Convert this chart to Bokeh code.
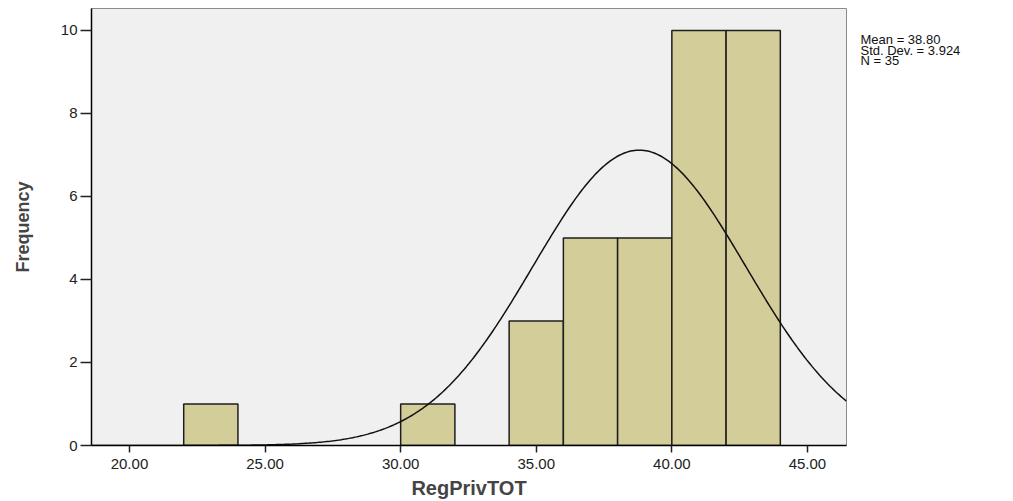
import numpy as np
from bokeh.plotting import figure
from bokeh.layouts import row
from bokeh.models import Range1d, FixedTicker, CustomJSTickFormatter
from bokeh.core.properties import value
from bokeh.embed import file_html
from bokeh.resources import INLINE

# Data
bin_left = [22, 30, 34, 36, 38, 40, 42]
bin_right = [24, 32, 36, 38, 40, 42, 44]
counts = [1, 1, 3, 5, 5, 10, 10]
mean_val = 38.80
std_val = 3.924
n_val = 35
bin_width = 2.0
x_ticks = [20, 25, 30, 35, 40, 45]
y_ticks = [0, 2, 4, 6, 8, 10]
stats_lines = [f"Mean = {mean_val:.2f}", f"Std. Dev. = {std_val:.3f}", f"N = {n_val}"]

x0, x1 = 18.6, 46.44
y0, y1 = 0, 10.53
H = 501
TOP, BOTTOM = 8, 56
FH = H - TOP - BOTTOM

p = figure(width=851, height=H, output_backend="svg", toolbar_location=None,
           x_range=Range1d(x0, x1), y_range=Range1d(y0, y1),
           min_border_left=91, min_border_right=5, min_border_top=TOP, min_border_bottom=BOTTOM)

p.background_fill_color = "#F0F0F0"
p.border_fill_color = "white"
p.outline_line_color = "#8C8C8C"
p.outline_line_width = 1
p.grid.visible = False

p.quad(left=bin_left, right=bin_right, top=counts, bottom=0,
       fill_color="#D3CE99", line_color="#1E1E1E", line_width=1.5)

# Normal curve from the displayed statistics
xs = np.linspace(x0, x1, 400)
ys = n_val * bin_width / (std_val * np.sqrt(2 * np.pi)) * np.exp(-0.5 * ((xs - mean_val) / std_val) ** 2)
p.line(xs, ys, line_color="#111111", line_width=1.5)

# Axes
p.xaxis.ticker = FixedTicker(ticks=x_ticks)
p.xaxis.formatter = CustomJSTickFormatter(code="return tick.toFixed(2);")
p.yaxis.ticker = FixedTicker(ticks=y_ticks)
for ax in (p.xaxis, p.yaxis):
    ax.axis_line_color = "black"
    ax.axis_line_width = 1.5
    ax.major_tick_line_color = "#222222"
    ax.major_tick_line_width = 1.5
    ax.major_tick_in = 0
    ax.minor_tick_line_color = None
    ax.major_label_text_font = "Liberation Sans"
    ax.major_label_text_font_size = "15px"
    ax.major_label_text_color = "#222222"
p.xaxis.major_tick_out = 7
p.yaxis.major_tick_out = 11
p.xaxis.major_label_standoff = 6
p.yaxis.major_label_standoff = 3

p.xaxis.axis_label = "RegPrivTOT"
p.xaxis.axis_label_text_font = "Liberation Sans"
p.xaxis.axis_label_text_font_style = "bold"
p.xaxis.axis_label_text_font_size = "20px"
p.xaxis.axis_label_standoff = 5

p.yaxis.axis_label = "Frequency"
p.yaxis.axis_label_text_font = "Liberation Sans"
p.yaxis.axis_label_text_font_style = "bold"
p.yaxis.axis_label_text_font_size = "18px"
p.yaxis.axis_label_standoff = 25

# Side panel for the statistics text; its frame lines up with the main frame
side_w = 150
s = figure(width=side_w, height=H, output_backend="svg", toolbar_location=None,
           x_range=Range1d(0, side_w), y_range=Range1d(0, FH),
           min_border_left=0, min_border_right=0, min_border_top=TOP, min_border_bottom=BOTTOM)
s.axis.visible = False
s.grid.visible = False
s.outline_line_color = None
s.background_fill_color = "white"
s.border_fill_color = "white"
baselines = [38.5, 49.5, 60.0]
s.text(x=[9] * 3, y=[FH - (b - TOP) for b in baselines], text=stats_lines,
       text_font=value("Liberation Sans"), text_font_size="13px", text_color="#111111",
       text_baseline="alphabetic", text_align="left")

layout = row(p, s, spacing=0)
open("out.html", "w").write(file_html(layout, INLINE))
